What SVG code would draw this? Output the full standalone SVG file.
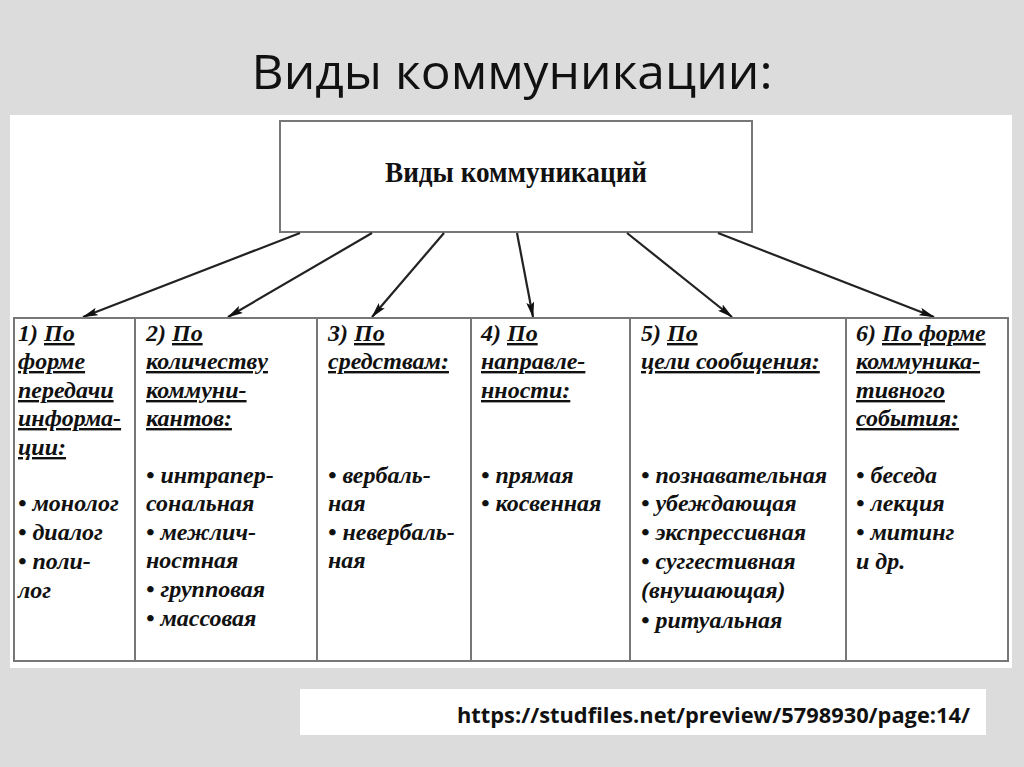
<svg xmlns="http://www.w3.org/2000/svg" width="1024" height="767" viewBox="0 0 1024 767">
<defs>
<style>
.c{font-family:"Liberation Serif","Times New Roman",serif;font-weight:bold;font-style:italic;font-size:24px;fill:#111}
.u{text-decoration:underline}
.ln{stroke:#222;stroke-width:2.2;fill:none;marker-end:url(#ah)}
.bx{fill:#fff;stroke:#777;stroke-width:2}
.gl{stroke:#777;stroke-width:2}
</style>
<marker id="ah" viewBox="0 0 16 8" refX="15" refY="4" markerWidth="16" markerHeight="8" orient="auto" markerUnits="userSpaceOnUse">
<path d="M0,0 L16,4 L0,8 L3,4 Z" fill="#111"/>
</marker>
</defs>
<rect width="1024" height="767" fill="#dcdcdc"/>
<text x="512" y="89" text-anchor="middle" font-family="Open Sans, sans-serif" font-size="47" fill="#111" textLength="521" lengthAdjust="spacingAndGlyphs">Виды коммуникации:</text>
<rect x="10" y="115" width="1002" height="553" fill="#fff"/>

<g id="root">
<rect class="bx" x="280" y="121" width="472" height="111"/>
<text x="516" y="182" text-anchor="middle" font-family="Liberation Serif, serif" font-weight="bold" font-size="30" fill="#111" textLength="262" lengthAdjust="spacingAndGlyphs">Виды коммуникаций</text>
</g>

<g id="connectors">
<line class="ln" x1="300" y1="233" x2="83" y2="317"/>
<line class="ln" x1="372" y1="233" x2="228" y2="317"/>
<line class="ln" x1="444" y1="233" x2="372" y2="317"/>
<line class="ln" x1="517" y1="233" x2="533" y2="317"/>
<line class="ln" x1="627" y1="233" x2="732" y2="317"/>
<line class="ln" x1="718" y1="233" x2="934" y2="317"/>
</g>

<g id="table">
<rect x="14" y="318" width="994" height="343" fill="#fff" stroke="#777" stroke-width="2"/>
<line class="gl" x1="135" y1="318" x2="135" y2="661"/>
<line class="gl" x1="317" y1="318" x2="317" y2="661"/>
<line class="gl" x1="471" y1="318" x2="471" y2="661"/>
<line class="gl" x1="630" y1="318" x2="630" y2="661"/>
<line class="gl" x1="846" y1="318" x2="846" y2="661"/>
</g>

<g id="col1" class="c">
<text x="18" y="341">1) <tspan class="u">По</tspan></text>
<text x="18" y="369" class="u">форме</text>
<text x="18" y="398" class="u">передачи</text>
<text x="18" y="426" class="u">информа-</text>
<text x="18" y="455" class="u">ции:</text>
<text x="18" y="511">• монолог</text>
<text x="18" y="540">• диалог</text>
<text x="18" y="569">• поли-</text>
<text x="18" y="598">лог</text>
</g>

<g id="col2" class="c">
<text x="146" y="341">2) <tspan class="u">По</tspan></text>
<text x="146" y="369" class="u">количеству</text>
<text x="146" y="398" class="u">коммуни-</text>
<text x="146" y="426" class="u">кантов:</text>
<text x="146" y="483">• интрапер-</text>
<text x="146" y="511">сональная</text>
<text x="146" y="540">• межлич-</text>
<text x="146" y="568">ностная</text>
<text x="146" y="597">• групповая</text>
<text x="146" y="626">• массовая</text>
</g>

<g id="col3" class="c">
<text x="328" y="341">3) <tspan class="u">По</tspan></text>
<text x="328" y="369" class="u">средствам:</text>
<text x="328" y="483">• вербаль-</text>
<text x="328" y="511">ная</text>
<text x="328" y="540">• невербаль-</text>
<text x="328" y="568">ная</text>
</g>

<g id="col4" class="c">
<text x="481" y="341">4) <tspan class="u">По</tspan></text>
<text x="481" y="369" class="u">направле-</text>
<text x="481" y="398" class="u">нности:</text>
<text x="481" y="483">• прямая</text>
<text x="481" y="511">• косвенная</text>
</g>

<g id="col5" class="c">
<text x="641" y="341">5) <tspan class="u">По</tspan></text>
<text x="641" y="369" class="u">цели сообщения:</text>
<text x="641" y="483">• познавательная</text>
<text x="641" y="511">• убеждающая</text>
<text x="641" y="540">• экспрессивная</text>
<text x="641" y="569">• суггестивная</text>
<text x="641" y="598">(внушающая)</text>
<text x="641" y="628">• ритуальная</text>
</g>

<g id="col6" class="c">
<text x="856" y="341">6) <tspan class="u">По форме</tspan></text>
<text x="856" y="369" class="u">коммуника-</text>
<text x="856" y="398" class="u">тивного</text>
<text x="856" y="426" class="u">события:</text>
<text x="856" y="483">• беседа</text>
<text x="856" y="511">• лекция</text>
<text x="856" y="540">• митинг</text>
<text x="856" y="569">и др.</text>
</g>

<g id="source">
<rect x="300" y="689" width="686" height="46" fill="#fff"/>
<text x="970" y="723" text-anchor="end" font-family="Open Sans, sans-serif" font-weight="bold" font-size="22" fill="#111" textLength="513" lengthAdjust="spacingAndGlyphs">https://studfiles.net/preview/5798930/page:14/</text>
</g>
</svg>
